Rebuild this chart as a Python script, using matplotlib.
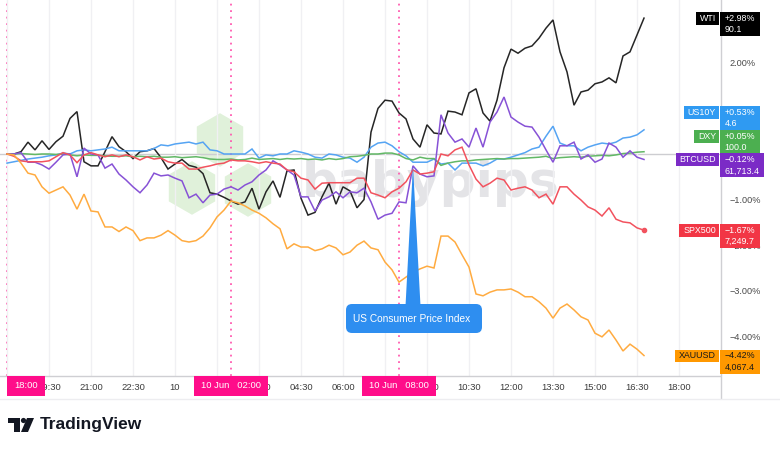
import numpy as np
import matplotlib
matplotlib.use("Agg")
import matplotlib.pyplot as plt
from matplotlib.patches import Rectangle, Polygon, FancyBboxPatch, RegularPolygon, Circle
from matplotlib.transforms import IdentityTransform

plt.rcParams['font.family'] = ['Liberation Sans', 'DejaVu Sans']

# ---------------- data (percent change since 18:00, 15-minute steps) ----------------
wti = [0, 0, 0.05, 0.26, 0.09, 0.29, 0.1, 0.27, 0.39, 0.78,
       0.93, -0.17, -0.26, -0.26, 0.05, 0.38, 0.16, 0.05, -0.1, 0.05,
       0.07, 0.12, -0.08, -0.33, -0.22, -0.12, -0.25, -0.29, -0.43, -0.85,
       -0.88, -0.95, -1.03, -1.1, -1.05, -0.75, -1.21, -0.83, -0.59, -0.95,
       -0.37, -0.35, -0.97, -1.34, -1.28, -0.94, -0.64, -1.1, -0.72, -0.81,
       -1.18, -1.0, 0.48, 1.0, 1.18, 1.16, 0.9, 0.77, 0.33, 0.15,
       0.64, 0.46, 0.44, 0.94, 0.92, 0.86, 1.34, 1.43, 0.9, 0.72,
       1.18, 1.89, 2.3, 2.21, 2.32, 2.37, 2.54, 2.76, 2.94, 2.24,
       1.8, 1.07, 1.36, 1.4, 1.54, 1.58, 1.67, 1.56, 2.15, 2.24,
       2.61, 2.98]
us10y = [-0.2, -0.17, -0.14, -0.11, -0.09, -0.07, -0.04, -0.02, 0.02, 0.0,
         0.07, 0.09, 0.07, 0.09, 0.11, 0.15, 0.07, 0.07, 0.07, 0.07,
         0.07, 0.12, 0.2, 0.18, 0.22, 0.24, 0.26, 0.22, 0.26, 0.09,
         0.07, 0.0, 0.0, 0.0, 0.0, 0.11, -0.09, -0.02, -0.04, 0.0,
         0.0, 0.07, 0.04, 0.0, -0.07, -0.09, 0.0, -0.02, -0.07, -0.09,
         -0.18, -0.07, 0.15, 0.24, 0.26, 0.18, 0.05, -0.04, -0.18, -0.18,
         -0.18, -0.11, -0.22, -0.2, -0.35, -0.2, -0.2, -0.2, -0.26, -0.2,
         -0.11, -0.11, -0.07, -0.02, 0.03, 0.11, 0.15, 0.39, 0.61, 0.24,
         0.18, 0.18, 0.07, 0.15, 0.2, 0.24, 0.22, 0.26, 0.35, 0.37,
         0.42, 0.53]
dxy = [0, 0.0, 0.01, 0.0, -0.01, 0.0, 0.0, -0.01, 0.0, -0.02,
       -0.04, -0.02, -0.03, -0.03, -0.04, -0.05, -0.05, -0.04, -0.06, -0.05,
       -0.06, -0.05, -0.07, -0.07, -0.06, -0.08, -0.07, -0.06, -0.08, -0.11,
       -0.12, -0.12, -0.11, -0.13, -0.12, -0.09, -0.12, -0.11, -0.1, -0.12,
       -0.1, -0.11, -0.1, -0.12, -0.11, -0.13, -0.1, -0.12, -0.1, -0.06,
       -0.05, -0.03, 0.0, 0.0, 0.02, 0.02, -0.02, -0.1, -0.13, -0.07,
       -0.1, -0.1, -0.25, -0.2, -0.17, -0.15, -0.15, -0.13, -0.12, -0.11,
       -0.1, -0.11, -0.1, -0.1, -0.09, -0.08, -0.07, -0.05, -0.1, -0.08,
       -0.07, -0.06, -0.07, -0.05, -0.04, -0.03, -0.04, -0.02, 0.01, 0.02,
       0.04, 0.05]
btcusd = [0, 0.0, 0.03, -0.18, -0.18, -0.24, -0.33, -0.18, -0.02, 0.0,
          -0.5, 0.13, 0.0, -0.02, -0.31, -0.22, -0.44, -0.57, -0.72, -0.85,
          -0.68, -0.42, -0.48, -0.46, -0.53, -0.59, -0.96, -0.88, -1.07, -0.9,
          -0.88, -0.77, -0.72, -0.79, -0.68, -0.61, -0.46, -0.35, -0.15, -0.24,
          -0.35, -0.46, -0.94, -0.94, -1.25, -1.01, -0.94, -0.83, -0.96, -0.83,
          -0.85, -0.75, -1.05, -1.43, -1.34, -1.3, -1.05, -1.07, -0.26, -0.44,
          -0.5, -0.48, 0.86, 0.46, 0.26, 0.33, 0.15, 0.57, 0.15, 0.7,
          0.92, 1.25, 0.81, 0.7, 0.61, 0.59, 0.37, 0.09, -0.18, 0.18,
          0.18, 0.26, -0.11, -0.02, -0.18, -0.11, 0.24, 0.15, -0.07, 0.07,
          -0.07, -0.12]
spx500 = [0, -0.05, -0.15, -0.17, -0.17, -0.17, -0.15, -0.06, 0.03, -0.02,
          -0.19, -0.02, 0.03, -0.02, -0.06, -0.02, -0.06, -0.02, -0.06, -0.13,
          -0.06, -0.11, -0.09, -0.17, -0.2, -0.2, -0.33, -0.33, -0.29, -0.26,
          -0.22, -0.2, -0.13, -0.15, -0.15, -0.17, -0.2, -0.17, -0.2, -0.22,
          -0.35, -0.39, -0.53, -0.57, -0.77, -0.64, -0.63, -0.63, -0.63, -0.63,
          -0.53, -0.53, -0.85, -0.9, -0.96, -0.83, -0.75, -0.61, -0.35, -0.44,
          -0.42, -0.39, 0.0, -0.04, 0.09, 0.15, -0.24, -0.55, -0.72, -0.64,
          -0.53, -0.57, -0.79, -0.75, -0.72, -0.79, -0.96, -0.88, -1.1, -0.72,
          -0.72, -0.88, -1.01, -1.16, -1.23, -1.36, -1.18, -1.43, -1.49, -1.51,
          -1.62, -1.67]
xauusd = [0, -0.02, -0.2, -0.42, -0.46, -0.72, -0.86, -0.79, -0.72, -0.9,
          -1.21, -0.88, -1.25, -1.27, -1.6, -1.6, -1.7, -1.6, -1.68, -1.9,
          -1.84, -1.84, -1.78, -1.68, -1.78, -1.9, -1.93, -1.9, -1.8, -1.62,
          -1.38, -1.23, -1.03, -1.07, -1.14, -1.23, -1.3, -1.4, -1.53, -1.64,
          -2.08, -1.97, -2.04, -2.04, -2.12, -2.08, -2.0, -2.06, -2.21, -2.15,
          -2.0, -1.91, -2.06, -2.1, -2.37, -2.54, -2.81, -2.7, -2.59, -2.52,
          -2.46, -2.5, -1.8, -1.8, -1.93, -2.21, -2.48, -3.07, -3.11, -3.03,
          -2.98, -2.98, -2.96, -3.03, -3.13, -3.13, -3.24, -3.38, -3.6, -3.38,
          -3.29, -3.42, -3.57, -3.64, -3.93, -4.01, -3.86, -4.08, -4.32, -4.17,
          -4.28, -4.42]

symbols = ['WTI', 'US10Y', 'DXY', 'BTCUSD', 'SPX500', 'XAUUSD']
series = [wti, us10y, dxy, btcusd, spx500, xauusd]
pct_labels = ['+2.98%', '+0.53%', '+0.05%', '\u22120.12%', '\u22121.67%', '\u22124.42%']
price_labels = ['90.1', '4.6', '100.0', '61,713.4', '7,249.7', '4,067.4']

# labels hidden under the date boxes are left blank
tick_labels = ['', '19:30', '21:00', '22:30', '10', '', '03:00', '04:30', '06:00',
               '', '09:00', '10:30', '12:00', '13:30', '15:00', '16:30', '18:00']
tick_step = 6                      # 1.5 h in 15-minute steps
event_idx = [0, 32, 56]            # 18:00, 02:00, 08:00
event_labels = ['18:00', '10 Jun   02:00', '10 Jun   08:00']
yticks = [3, 2, 1, 0, -1, -2, -3, -4]
# labels covered by the symbol tags are left blank
ytick_labels = ['', '2.00%', '', '', '\u22121.00%', '\u22122.00%', '\u22123.00%', '\u22124.00%']
cpi_idx = 58
cpi_text = 'US Consumer Price Index'

# ---------------- style ----------------
line_colors = ['#262626', '#55a4f3', '#62b866', '#8752d6', '#f2525e', '#ffab40']
box_colors = ['#000000', '#2f9af2', '#4caf50', '#7b2bc6', '#f23645', '#ff9800']
text_colors = ['white', 'white', 'white', 'white', 'white', '#1a1a1a']
pink = '#ff0d8a'

W, H = 780, 450
fig = plt.figure(figsize=(W / 100, H / 100), dpi=100)
fig.patch.set_facecolor('white')
ID = IdentityTransform()


def D(x, y):
    """pixel-from-top -> display coords"""
    return (x, H - y)


ax = fig.add_axes([0, 1 - 376 / H, 720 / W, 376 / H])
ax.set_facecolor('white')
ax.set_xlim(-1, (720 - 7) / 7)
ax.set_ylim((154 - 376) / 45.6, 154 / 45.6)

for s in ['top', 'left', 'right']:
    ax.spines[s].set_visible(False)
ax.spines['bottom'].set_color('#cfcfd3')
ax.spines['bottom'].set_linewidth(1)

ax.set_xticks(np.arange(len(tick_labels)) * tick_step)
ax.set_xticklabels(tick_labels)
ax.tick_params(axis='x', length=0, pad=5, labelsize=6.8, labelcolor='#3d3d3d')
ax.grid(axis='x', color='#f0f0f3', lw=1)
ax.yaxis.tick_right()
ax.set_yticks(yticks)
ax.set_yticklabels(ytick_labels)
ax.tick_params(axis='y', length=0, pad=7, labelsize=6.6, labelcolor='#4a4a4a')

# watermark
for cx, cy in [(220, 140), (192, 188), (248, 190)]:
    ax.add_patch(RegularPolygon(D(cx, cy), 6, radius=28, transform=ID,
                                facecolor='#e0f1da', edgecolor='white', lw=1.5, zorder=0.3))
wm = ax.text(302, H - 197, 'babypips', transform=ID, fontsize=60, fontweight='bold',
             color='#e4e4e7', ha='left', va='baseline', zorder=0.4,
             family=['DejaVu Sans'])
r = fig.canvas.get_renderer()
wbb = wm.get_window_extent(r)
wm.set_fontsize(60 * 258 / wbb.width)

ax.axhline(0, color='#cdcdd1', lw=1, zorder=1)
for e in event_idx:
    ax.axvline(e, color='#ff5cb0', lw=1.3, linestyle=(0, (1, 2.6)), zorder=1.2)

order = [2, 1, 5, 4, 3, 0]
for k in order:
    ax.plot(np.arange(len(series[k])), series[k], color=line_colors[k], lw=1.1,
            zorder=2 + k * 0.1, solid_joinstyle='miter')
ax.plot([len(spx500) - 1], [spx500[-1]], 'o', color=line_colors[4], ms=3, zorder=3)

# right axis separator and bottom line
fig.add_artist(plt.Line2D([720.5, 720.5], [H - 0, H - 398], transform=ID, color='#cfcfd3', lw=1))
fig.add_artist(plt.Line2D([0, 780], [H - 398.5, H - 398.5], transform=ID, color='#ededf0', lw=1))

# event date boxes on time axis
for e, lab in zip(event_idx, event_labels):
    xc = ax.transData.transform((e, 0))[0]
    t = fig.text(0, 0, lab, transform=ID, fontsize=6.8, color='white', ha='center',
                 va='center', zorder=7)
    w = t.get_window_extent(r).width + 14
    left = max(xc - w / 2, 7)
    t.set_position(D(left + w / 2, 386))
    fig.add_artist(Rectangle(D(left, 395.5), w, 19.5, transform=ID, facecolor=pink,
                             edgecolor='none', zorder=6))

# right-side symbol labels with collision avoidance
tops = {}
prev = None
idxs = sorted(range(len(series)), key=lambda k: series[k][-1])  # bottom first
for k in idxs:
    ypx = H - ax.transData.transform((0, series[k][-1]))[1]
    top = ypx - 6
    if prev is not None:
        top = min(top, prev - 23.5)
    tops[k] = top
    prev = top

for k in range(len(series)):
    top = tops[k]
    t1 = fig.text(*D(724.5, top + 6.3), pct_labels[k], transform=ID, fontsize=6.4,
                  color=text_colors[k], ha='left', va='center', zorder=7)
    t2 = fig.text(*D(724.5, top + 17.5), price_labels[k], transform=ID, fontsize=6.4,
                  color=text_colors[k], ha='left', va='center', zorder=7)
    w = max(t1.get_window_extent(r).width, t2.get_window_extent(r).width) + 9
    fig.add_artist(Rectangle(D(720, top + 24), w, 24, transform=ID,
                             facecolor=box_colors[k], edgecolor='none', zorder=6))
    tn = fig.text(*D(716, top + 6.3), symbols[k], transform=ID, fontsize=6.4,
                  color=text_colors[k], ha='right', va='center', zorder=7)
    wn = tn.get_window_extent(r).width + 7
    fig.add_artist(Rectangle(D(719 - wn, top + 12.6), wn, 12.6, transform=ID,
                             facecolor=box_colors[k], edgecolor='none', zorder=6))

# CPI callout
tipx, tipy = ax.transData.transform((cpi_idx, btcusd[cpi_idx]))
callout_c = '#2e8ef0'
fig.add_artist(Polygon([(tipx, tipy), (tipx - 7.5, H - 306), (tipx + 7.5, H - 306)],
                       closed=True, transform=ID, facecolor=callout_c, edgecolor='none', zorder=5))
fig.add_artist(FancyBboxPatch(D(346, 333), 136, 29, boxstyle='round,pad=0,rounding_size=6',
                              transform=ID, facecolor=callout_c, edgecolor='none', zorder=5))
fig.text(*D(411.5, 318.5), cpi_text, transform=ID, fontsize=7.3, color='white',
         ha='center', va='center', zorder=6)

# TradingView logo
logo_c = '#131722'
fig.add_artist(Rectangle(D(8, 423), 12, 5, transform=ID, facecolor=logo_c, edgecolor='none'))
fig.add_artist(Rectangle(D(14, 432), 6, 14, transform=ID, facecolor=logo_c, edgecolor='none'))
fig.add_artist(Circle(D(23.5, 420.5), 2.6, transform=ID, facecolor=logo_c, edgecolor='none'))
fig.add_artist(Polygon([D(27, 418), D(34, 418), D(28, 432), D(21, 432)], closed=True,
                       transform=ID, facecolor=logo_c, edgecolor='none'))
fig.text(*D(40, 425), 'TradingView', transform=ID, fontsize=12.5, fontweight='bold',
         color=logo_c, ha='left', va='center')

fig.savefig('out.png', dpi=100, facecolor='white')
